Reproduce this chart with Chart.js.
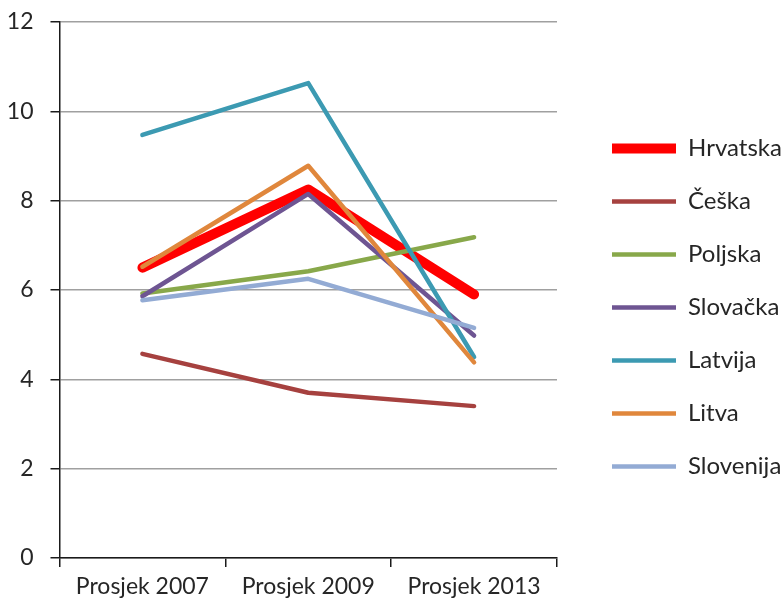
<!DOCTYPE html>
<html>
<head>
<meta charset="utf-8">
<script src="https://cdn.jsdelivr.net/npm/chart.js@4.4.1/dist/chart.umd.min.js"></script>
<style>
  html, body { margin: 0; padding: 0; background: #ffffff; }
  #wrap { width: 782px; height: 610px; }
</style>
</head>
<body>
<div id="wrap"><canvas id="c" width="782" height="610"></canvas></div>
<script>
// ---- data ----
const categories = ['Prosjek 2007', 'Prosjek 2009', 'Prosjek 2013'];
const seriesNames = ['Hrvatska', 'Češka', 'Poljska', 'Slovačka', 'Latvija', 'Litva', 'Slovenija'];
const hrvatska  = [6.50, 8.25, 5.90];
const ceska     = [4.57, 3.70, 3.40];
const poljska   = [5.92, 6.42, 7.18];
const slovacka  = [5.86, 8.15, 4.98];
const latvija   = [9.47, 10.63, 4.50];
const litva     = [6.52, 8.78, 4.38];
const slovenija = [5.77, 6.25, 5.15];
const yTicks = [0, 2, 4, 6, 8, 10, 12];

// ---- styles ----
const seriesValues = [hrvatska, ceska, poljska, slovacka, latvija, litva, slovenija];
const colors = ['#FF0000', '#A6413F', '#88A84A', '#6E5592', '#3C9AB2', '#E0873C', '#93ABD4'];
const widths = [10, 4.5, 4.5, 4.5, 4.5, 4.5, 4.5];
const textColor = '#262626';
const FONT = 'Lato';

const datasets = seriesNames.map((name, i) => ({
  label: name,
  data: seriesValues[i],
  borderColor: colors[i],
  backgroundColor: colors[i],
  borderWidth: widths[i],
  borderCapStyle: 'round',
  borderJoinStyle: 'round',
  pointRadius: 0,
  pointHoverRadius: 0,
  tension: 0,
  fill: false,
  order: seriesNames.length - i
}));

const chart = new Chart(document.getElementById('c'), {
  type: 'line',
  data: { labels: categories, datasets: datasets },
  options: {
    responsive: false,
    animation: false,
    devicePixelRatio: 1,
    layout: { padding: { top: 5, right: 0, bottom: 0, left: 0 } },
    plugins: {
      tooltip: { enabled: false },
      legend: {
        position: 'right',
        align: 'center',
        maxWidth: 199,
        labels: {
          usePointStyle: true,
          pointStyle: 'line',
          pointStyleWidth: 64,
          padding: 29,
          color: textColor,
          font: { family: FONT, size: 24 },
          sort: (a, b) => a.datasetIndex - b.datasetIndex
        }
      }
    },
    scales: {
      x: {
        type: 'category',
        offset: true,
        grid: {
          display: true,
          offset: true,
          drawOnChartArea: false,
          drawTicks: true,
          tickLength: 9,
          color: '#1a1a1a',
          tickColor: '#1a1a1a',
          lineWidth: 1.5
        },
        border: { display: true, color: '#1a1a1a', width: 1.5 },
        ticks: {
          color: textColor,
          font: { family: FONT, size: 23 },
          padding: 6,
          maxRotation: 0,
          autoSkip: false
        },
        afterFit: (s) => { s.height = 52; }
      },
      y: {
        position: 'left',
        min: 0,
        max: 12,
        afterBuildTicks: (s) => { s.ticks = yTicks.map(v => ({ value: v })); },
        grid: {
          color: '#a0a0a0',
          lineWidth: 1.5,
          tickColor: '#1a1a1a',
          tickLength: 9,
          drawTicks: true
        },
        border: { display: true, color: '#1a1a1a', width: 1.5 },
        ticks: {
          color: textColor,
          font: { family: FONT, size: 23, lineHeight: 0.43 },
          padding: 17
        },
        afterFit: (s) => { s.width = 59.5; }
      },
      gap: {
        position: 'right',
        display: true,
        grid: { display: false },
        border: { display: false },
        ticks: { display: false },
        afterFit: (s) => { s.width = 26; }
      }
    }
  }
});
</script>
</body>
</html>
